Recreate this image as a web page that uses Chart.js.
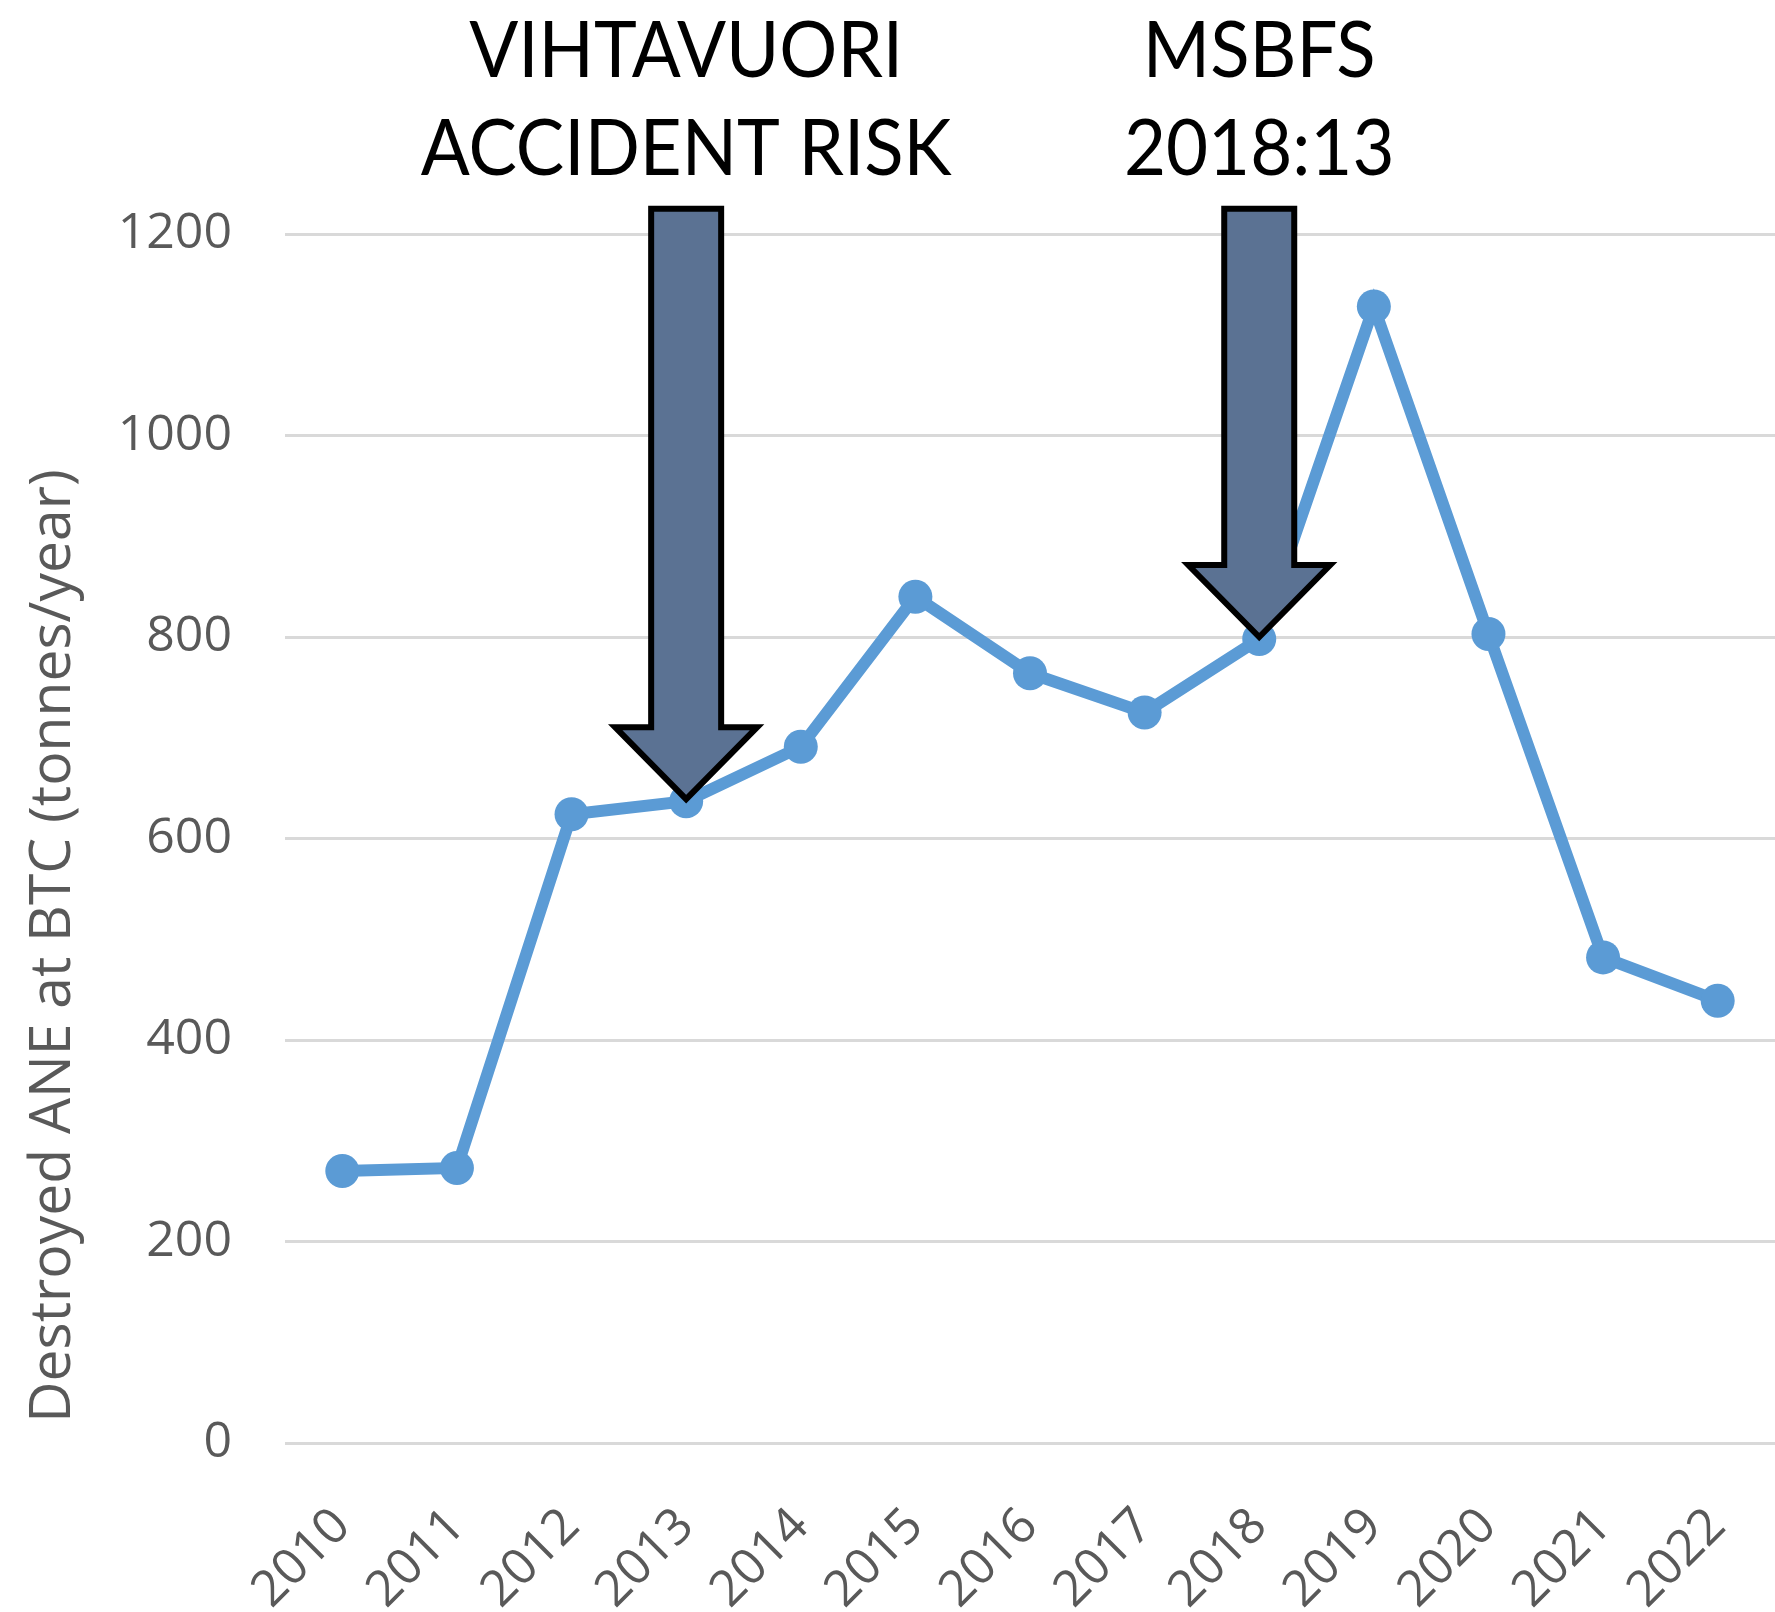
<!DOCTYPE html>
<html>
<head>
<meta charset="utf-8">
<script src="https://cdn.jsdelivr.net/npm/chart.js@4"></script>
<style>
  html, body { margin: 0; padding: 0; background: #fff; }
  #wrap { width: 1775px; height: 1612px; }
</style>
</head>
<body>
<div id="wrap"><canvas id="my-chart"></canvas></div>
<script>
// data
const years = ['2010', '2011', '2012', '2013', '2014', '2015', '2016', '2017', '2018', '2019', '2020', '2021', '2022'];
const destroyedANE = [270, 273, 624, 637, 691, 840, 764, 725, 798, 1128, 803, 482, 439];
const yTicks = [0, 200, 400, 600, 800, 1000, 1200];
const yTitle = 'Destroyed ANE at BTC (tonnes/year)';

// the two arrows with their captions
const arrowYears = ['2013', '2018'];
const arrowCaptions = [['VIHTAVUORI', 'ACCIDENT RISK'], ['MSBFS', '2018:13']];
const arrowTopValue = 1225;

const grey = '#595959';

const arrowPlugin = {
  id: 'arrows',
  afterDraw(chart) {
    const ctx = chart.ctx;
    // y axis title, drawn by hand so it sits a bit below the middle like the original
    ctx.save();
    ctx.translate(54, 946);
    ctx.rotate(-Math.PI / 2);
    ctx.fillStyle = grey;
    ctx.font = '57px "Open Sans"';
    ctx.textAlign = 'center';
    ctx.textBaseline = 'middle';
    ctx.fillText(yTitle, 0, 0);
    ctx.restore();
  },
  afterDatasetsDraw(chart) {
    const ctx = chart.ctx;
    const x = chart.scales.x, y = chart.scales.y;
    arrowYears.forEach((yr, k) => {
      const i = years.indexOf(yr);
      const cx = x.getPixelForValue(i);
      const tip = y.getPixelForValue(destroyedANE[i]) - 2;
      const top = y.getPixelForValue(arrowTopValue);
      const sw = 35, hw = 71, hh = 72;
      ctx.save();
      ctx.beginPath();
      ctx.moveTo(cx - sw, top);
      ctx.lineTo(cx + sw, top);
      ctx.lineTo(cx + sw, tip - hh);
      ctx.lineTo(cx + hw, tip - hh);
      ctx.lineTo(cx, tip);
      ctx.lineTo(cx - hw, tip - hh);
      ctx.lineTo(cx - sw, tip - hh);
      ctx.closePath();
      ctx.fillStyle = '#5b7293';
      ctx.fill();
      ctx.lineWidth = 6;
      ctx.lineJoin = 'miter';
      ctx.strokeStyle = '#000';
      ctx.stroke();

      // caption above the arrow
      ctx.fillStyle = '#000';
      ctx.font = '78px Lato';
      ctx.textAlign = 'center';
      ctx.textBaseline = 'alphabetic';
      arrowCaptions[k].forEach((line, j) => {
        ctx.save();
        ctx.translate(cx, 77 + j * 98);
        ctx.scale(0.93, 1);
        ctx.fillText(line, 0, 0);
        ctx.restore();
      });
      ctx.restore();
    });
  }
};

const ctx = document.getElementById('my-chart').getContext('2d');
const chart = new Chart(ctx, {
  type: 'line',
  data: {
    labels: years,
    datasets: [{
      label: yTitle,
      data: destroyedANE,
      borderColor: '#5b9bd5',
      backgroundColor: '#5b9bd5',
      borderWidth: 12,
      pointRadius: 17,
      pointBorderWidth: 0,
      pointBackgroundColor: '#5b9bd5',
      tension: 0,
      clip: false
    }]
  },
  options: {
    responsive: true,
    maintainAspectRatio: false,
    animation: false,
    layout: { autoPadding: false, padding: { top: 234, right: 0, left: 0, bottom: 0 } },
    plugins: {
      legend: { display: false },
      tooltip: { enabled: false }
    },
    scales: {
      x: {
        offset: true,
        // invisible tick marks push the labels down without adding right padding
        grid: { display: false, drawTicks: true, tickLength: 54 },
        border: { display: false },
        ticks: {
          color: grey,
          font: { family: 'Open Sans', size: 50 },
          minRotation: 45,
          maxRotation: 45,
          padding: 0
        },
        afterFit: s => { s.height = 169; }
      },
      y: {
        min: 0,
        max: 1200,
        afterBuildTicks: s => { s.ticks = yTicks.map(v => ({ value: v })); },
        grid: { color: '#d9d9d9', lineWidth: 3, drawTicks: false },
        border: { display: false },
        ticks: {
          color: grey,
          font: { family: 'Open Sans', size: 50 },
          padding: 53,
          callback: v => String(v)
        },
        afterFit: s => { s.width = 285; }
      }
    }
  },
  plugins: [arrowPlugin]
});
</script>
</body>
</html>
